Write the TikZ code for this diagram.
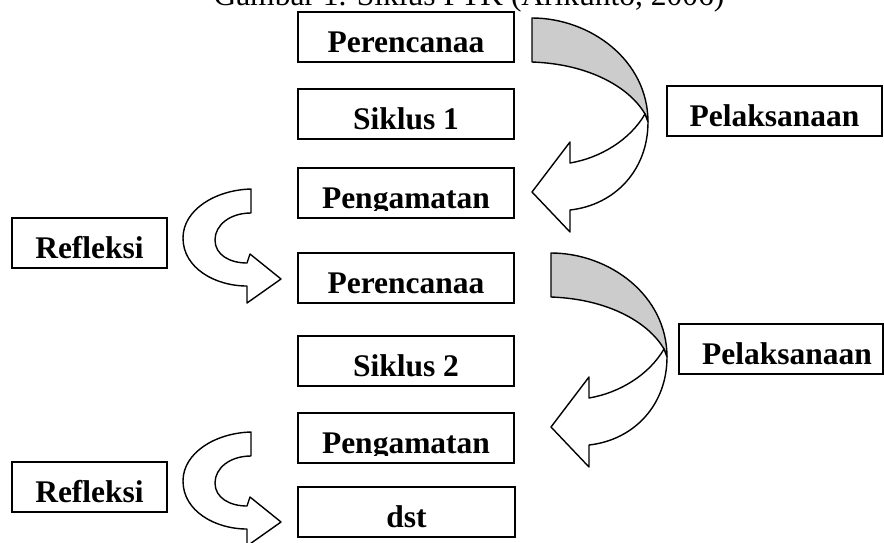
\documentclass[tikz,border=0pt]{standalone}
\usepackage{fontspec}
\setmainfont{Liberation Serif}
\usepackage{tikz}

\definecolor{backgray}{gray}{0.8}
\newcommand{\diagfont}{\fontsize{31.5}{36}\selectfont\bfseries}
\newcommand{\titlefont}{\fontsize{31.5}{36}\selectfont}

\begin{document}
\begin{tikzpicture}[x=1pt,y=-1pt,
        box/.style={draw, line width=1.6pt, inner sep=0pt, minimum width=216pt, minimum height=50pt,
            text height=40pt, text depth=10pt, font=\diagfont},
        boxtext/.style={inner sep=0pt, anchor=base, font=\diagfont},
        band/.style={draw, line width=1.4pt, line join=round, fill=white},
        back/.style={band, fill=backgray}]
        % Frame of the picture
        \clip (0,0) rectangle (884,542);

        % Caption, cut off by the top edge
        \node[anchor=base, inner sep=0pt, font=\titlefont] (title) at (469,5) {Gambar 1. Siklus PTK (Arikunto, 2006)};

        % First cycle
        \node[box] (plan1) at (406,37) {Perencanaa};
        \node[box] (cycle1) at (406,114) {Siklus 1};
        \node[box] (obs1) at (406,193) {};
        \node[box, minimum width=215pt] (act1) at (774.5,111) {Pelaksanaan};
        \node[box, minimum width=155pt] (refl1) at (89.5,243) {Refleksi};

        % Second cycle
        \node[box] (plan2) at (406,278) {Perencanaa};
        \node[box] (cycle2) at (406,361) {Siklus 2};
        \node[box] (obs2) at (406,438) {};
        \node[box, minimum width=204pt] (act2) at (781,349) {\hspace*{12pt}Pelaksanaan};
        \node[box, minimum width=155pt] (refl2) at (89.5,487) {Refleksi};
        \node[box, minimum width=217pt] (etc) at (406.5,512) {dst};

        % Observation labels lose their descenders at the box edge
        \begin{scope}
            \clip ([yshift=8pt]obs1.south west) rectangle (obs1.north east);
            \node[boxtext] (obs1text) at ([yshift=10pt]obs1.south) {Pengamatan};
        \end{scope}
        \begin{scope}
            \clip ([yshift=8pt]obs2.south west) rectangle (obs2.north east);
            \node[boxtext] (obs2text) at ([yshift=10pt]obs2.south) {Pengamatan};
        \end{scope}

        % Twisted arrow of the first cycle
        \draw[back] (532,18) .. controls (590,18) and (648,60) .. (648,122) -- (645,114)
            .. controls (630,88) and (590,64) .. (532,62) -- cycle; % shaded back
        \draw[band] (645,114) .. controls (630,140) and (600,158) .. (570,163) -- (570,142) -- (532,192)
            -- (570,232) -- (570,210) .. controls (615,205) and (648,170) .. (648,122) -- cycle; % front with head

        % Twisted arrow of the second cycle
        \begin{scope}[shift={(19,235)}]
            \draw[back] (532,18) .. controls (590,18) and (648,60) .. (648,122) -- (645,114)
                .. controls (630,88) and (590,64) .. (532,62) -- cycle; % shaded back
            \draw[band] (645,114) .. controls (630,140) and (600,158) .. (570,163) -- (570,142) -- (532,192)
                -- (570,232) -- (570,210) .. controls (615,205) and (648,170) .. (648,122) -- cycle; % front with head
        \end{scope}

        % Reflection arrows
        \draw[band] (251,189) .. controls (215,190) and (183,210) .. (183,238)
            .. controls (183,268) and (215,286) .. (247,286) -- (247,303) -- (281,279) -- (250,254) -- (247,263)
            .. controls (230,263) and (215,255) .. (215,240) .. controls (215,225) and (230,213) .. (251,213) -- cycle;
        \begin{scope}[shift={(0,243)}]
            \draw[band] (251,189) .. controls (215,190) and (183,210) .. (183,238)
                .. controls (183,268) and (215,286) .. (247,286) -- (247,303) -- (281,279) -- (250,254) -- (247,263)
                .. controls (230,263) and (215,255) .. (215,240) .. controls (215,225) and (230,213) .. (251,213) -- cycle;
        \end{scope}
    \end{tikzpicture}
\end{document}
